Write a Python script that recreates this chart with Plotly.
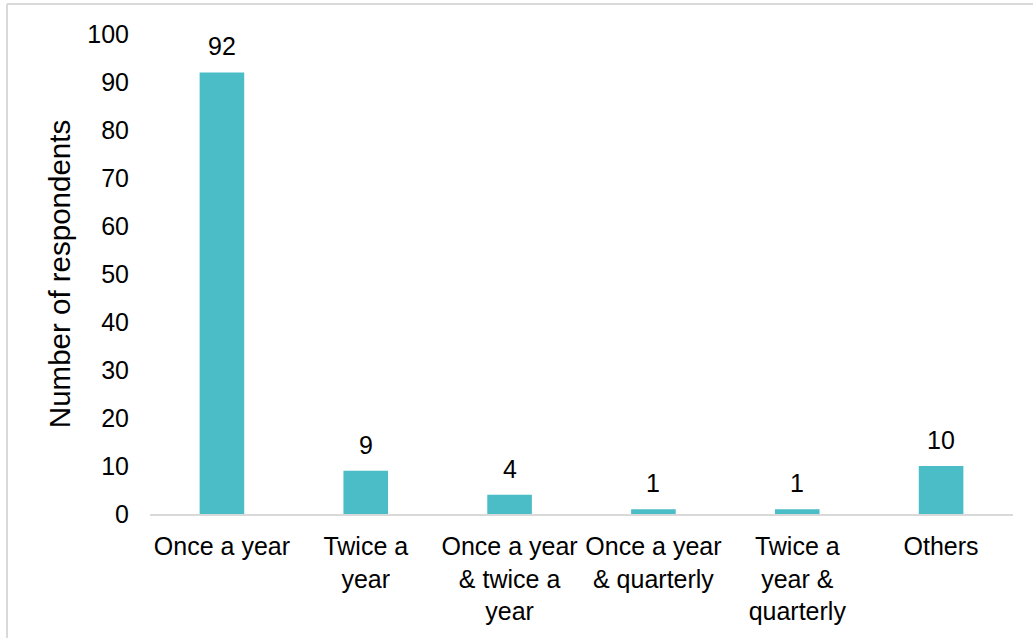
import plotly.graph_objects as go

categories = ["Once a year", "Twice a<br>year", "Once a year<br>& twice a<br>year",
              "Once a year<br>& quarterly", "Twice a<br>year &<br>quarterly", "Others"]
values = [92, 9, 4, 1, 1, 10]
y_ticks = [0, 10, 20, 30, 40, 50, 60, 70, 80, 90, 100]

W, H = 1033, 638
L, R, T, B = 150, 20, 34, 124
pw, ph = W - L - R, H - T - B

FAM = "Liberation Sans, Arial, sans-serif"
def f(size):
    return dict(family=FAM, size=size, color="#000000")

fig = go.Figure(go.Bar(x=categories, y=values, marker=dict(color="#4ABDC6", line=dict(width=0)),
                       hoverinfo="skip"))

for c, v in zip(categories, values):
    fig.add_annotation(x=c, y=v, text=str(v), showarrow=False, yanchor="bottom",
                       yshift=10, font=f(25))

def px_x(x):
    return (x - L) / pw

def px_y(y):
    return 1 - (y - T) / ph

border = dict(color="#D9D9D9", width=2)
fig.add_shape(type="line", xref="paper", yref="paper", x0=px_x(7), x1=px_x(1040),
              y0=px_y(4), y1=px_y(4), line=border)
fig.add_shape(type="line", xref="paper", yref="paper", x0=px_x(7), x1=px_x(7),
              y0=px_y(4), y1=px_y(645), line=border)

fig.update_layout(
    width=W, height=H, margin=dict(l=L, r=R, t=T, b=B),
    plot_bgcolor="white", paper_bgcolor="white",
    font=f(24), bargap=0.69, showlegend=False,
    xaxis=dict(showline=True, linecolor="#D9D9D9", linewidth=2, ticks="",
               tickfont=f(25), ticklabelstandoff=9, showgrid=False),
    yaxis=dict(range=[0, 100], tickvals=y_ticks, showgrid=False, zeroline=False,
               showline=False, ticks="", tickfont=f(25), ticklabelstandoff=20,
               title=dict(text="Number of respondents", font=f(29.5), standoff=7)),
)

fig.write_html("out.html")
